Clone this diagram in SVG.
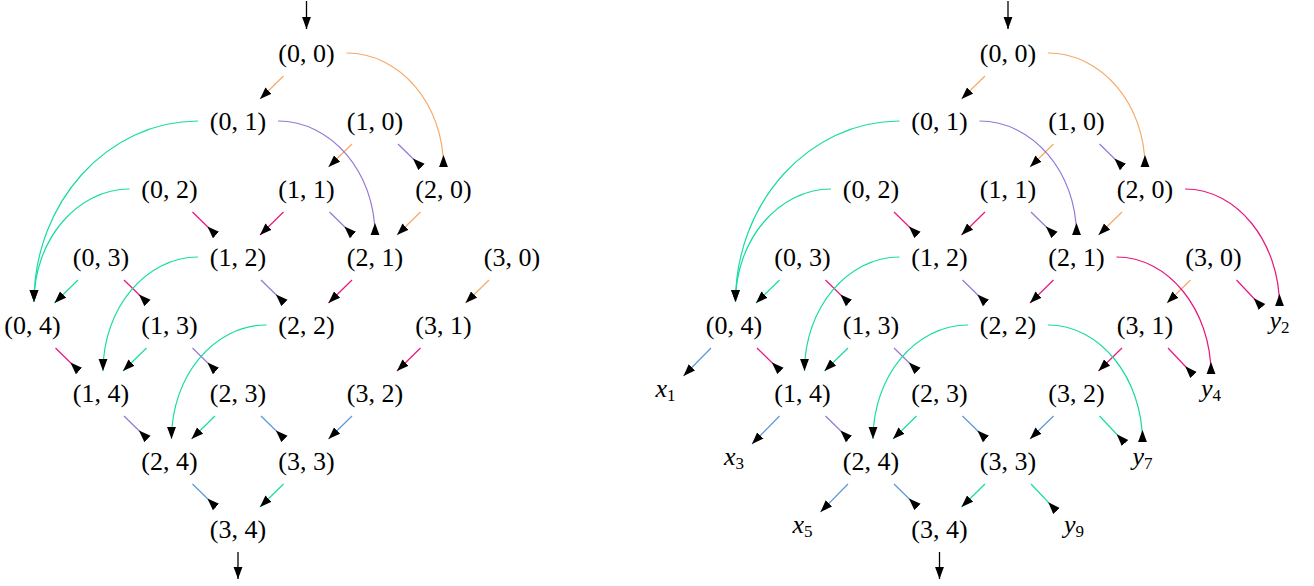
<svg xmlns="http://www.w3.org/2000/svg" width="1314" height="586" viewBox="0 0 1314 586">
<style>
.n{font-family:"Liberation Serif","DejaVu Serif",serif;font-size:26px;fill:#000;text-anchor:middle}
.m{font-family:"Liberation Serif","DejaVu Serif",serif;font-size:26px;font-style:italic;fill:#000;text-anchor:middle}
.s{font-size:17px;font-style:normal}
.e{fill:none;stroke-width:1.2}
.dl{marker-end:url(#ah)}
.dr{marker-end:url(#rh)}
.o{stroke:#f7a866}
.p{stroke:#9577d4}
.k{stroke:#e8167d}
.t{stroke:#17dca2}
.b{stroke:#5b98d6}
.io{fill:none;stroke:#000;stroke-width:1.3;marker-end:url(#ah)}
</style>
<defs>
<marker id="ah" markerUnits="userSpaceOnUse" markerWidth="12" markerHeight="10" viewBox="0 0 10 8" refX="10" refY="4" orient="auto"><path d="M0,0.3 L10,4 L0,7.7 z" fill="#000"/></marker>
<marker id="rh" markerUnits="userSpaceOnUse" markerWidth="12" markerHeight="10" viewBox="0 0 10 8" refX="10" refY="4" orient="auto"><path d="M0,4 L10,0.3 L10,7.7 z" fill="#000"/></marker>
</defs>

<!-- LEFT DIAGRAM -->
<g id="left">
<g id="left-connectors">
<path class="io" d="M306.5,1 L306.5,29"/>
<path class="io" d="M238,552 L238,579"/>
<path class="e o dl" d="M283.5,76 L260,99"/>
<path class="e o dl" d="M352,144 L328.5,167"/>
<path class="e o dl" d="M420.5,212 L397,235"/>
<path class="e o dl" d="M489,280 L465.5,303"/>
<path class="e o dr" d="M346.5,53 C400,53 443.5,104 443.5,167"/>
<path class="e p dr" d="M398,144 L421.5,167"/>
<path class="e p dr" d="M329.5,212 L353,235"/>
<path class="e p dr" d="M261,280 L284.5,303"/>
<path class="e p dr" d="M192.5,348 L216,371"/>
<path class="e p dr" d="M124,416 L147.5,439"/>
<path class="e p dr" d="M278,121 C331,121 375,172 375,235"/>
<path class="e k dr" d="M192.5,212 L216,235"/>
<path class="e k dl" d="M283.5,212 L260,235"/>
<path class="e k dr" d="M124,280 L147.5,303"/>
<path class="e k dl" d="M352,280 L328.5,303"/>
<path class="e k dr" d="M55.5,348 L79,371"/>
<path class="e k dl" d="M420.5,348 L397,371"/>
<path class="e t dl" d="M78,280 L54.5,303"/>
<path class="e t dl" d="M146.5,348 L123,371"/>
<path class="e t dl" d="M215,416 L191.5,439"/>
<path class="e t dl" d="M283.5,484 L260,507"/>
<path class="e t dl" d="M198,121 C108,121 34,202 34,302"/>
<path class="e t dl" d="M129.5,189 C77,189 34,240 34,302"/>
<path class="e t dl" d="M198,257 C146,257 103,308 103,371"/>
<path class="e t dl" d="M266.5,325 C214,325 171.5,376 171.5,439"/>
<path class="e b dr" d="M261,416 L284.5,439"/>
<path class="e b dl" d="M352,416 L328.5,439"/>
<path class="e b dr" d="M192.5,484 L216,507"/>
</g>
<g id="L00"><text class="n" x="306.5" y="62">(0, 0)</text></g>
<g id="L01"><text class="n" x="238" y="130">(0, 1)</text></g>
<g id="L10"><text class="n" x="375" y="130">(1, 0)</text></g>
<g id="L02"><text class="n" x="169.5" y="198">(0, 2)</text></g>
<g id="L11"><text class="n" x="306.5" y="198">(1, 1)</text></g>
<g id="L20"><text class="n" x="443.5" y="198">(2, 0)</text></g>
<g id="L03"><text class="n" x="101" y="266">(0, 3)</text></g>
<g id="L12"><text class="n" x="238" y="266">(1, 2)</text></g>
<g id="L21"><text class="n" x="375" y="266">(2, 1)</text></g>
<g id="L30"><text class="n" x="512" y="266">(3, 0)</text></g>
<g id="L04"><text class="n" x="32.5" y="334">(0, 4)</text></g>
<g id="L13"><text class="n" x="169.5" y="334">(1, 3)</text></g>
<g id="L22"><text class="n" x="306.5" y="334">(2, 2)</text></g>
<g id="L31"><text class="n" x="443.5" y="334">(3, 1)</text></g>
<g id="L14"><text class="n" x="101" y="402">(1, 4)</text></g>
<g id="L23"><text class="n" x="238" y="402">(2, 3)</text></g>
<g id="L32"><text class="n" x="375" y="402">(3, 2)</text></g>
<g id="L24"><text class="n" x="169.5" y="470">(2, 4)</text></g>
<g id="L33"><text class="n" x="306.5" y="470">(3, 3)</text></g>
<g id="L34"><text class="n" x="238" y="538">(3, 4)</text></g>
</g>

<!-- RIGHT DIAGRAM -->
<g id="right" transform="translate(701.5,0)">
<g id="right-connectors">
<path class="io" d="M306.5,1 L306.5,29"/>
<path class="io" d="M238,552 L238,579"/>
<path class="e o dl" d="M283.5,76 L260,99"/>
<path class="e o dl" d="M352,144 L328.5,167"/>
<path class="e o dl" d="M420.5,212 L397,235"/>
<path class="e o dl" d="M489,280 L465.5,303"/>
<path class="e o dr" d="M346.5,53 C400,53 443.5,104 443.5,167"/>
<path class="e p dr" d="M398,144 L421.5,167"/>
<path class="e p dr" d="M329.5,212 L353,235"/>
<path class="e p dr" d="M261,280 L284.5,303"/>
<path class="e p dr" d="M192.5,348 L216,371"/>
<path class="e p dr" d="M124,416 L147.5,439"/>
<path class="e p dr" d="M278,121 C331,121 375,172 375,235"/>
<path class="e k dr" d="M192.5,212 L216,235"/>
<path class="e k dl" d="M283.5,212 L260,235"/>
<path class="e k dr" d="M124,280 L147.5,303"/>
<path class="e k dl" d="M352,280 L328.5,303"/>
<path class="e k dr" d="M55.5,348 L79,371"/>
<path class="e k dl" d="M420.5,348 L397,371"/>
<path class="e k dr" d="M535,280 L560.5,307"/>
<path class="e k dr" d="M466.5,348 L492,375"/>
<path class="e k dr" d="M483.5,189 C535.5,189 578,242 578,306"/>
<path class="e k dr" d="M415,257 C467,257 509.5,310 509.5,374"/>
<path class="e t dl" d="M78,280 L54.5,303"/>
<path class="e t dl" d="M146.5,348 L123,371"/>
<path class="e t dl" d="M215,416 L191.5,439"/>
<path class="e t dl" d="M283.5,484 L260,507"/>
<path class="e t dl" d="M198,121 C108,121 34,202 34,302"/>
<path class="e t dl" d="M129.5,189 C77,189 34,240 34,302"/>
<path class="e t dl" d="M198,257 C146,257 103,308 103,371"/>
<path class="e t dl" d="M266.5,325 C214,325 171.5,376 171.5,439"/>
<path class="e t dr" d="M398,416 L423.5,443"/>
<path class="e t dr" d="M329.5,484 L355,511"/>
<path class="e t dr" d="M346.5,325 C398.5,325 441,378 441,442"/>
<path class="e b dr" d="M261,416 L284.5,439"/>
<path class="e b dl" d="M352,416 L328.5,439"/>
<path class="e b dr" d="M192.5,484 L216,507"/>
<path class="e b dl" d="M9.5,348 L-18,376"/>
<path class="e b dl" d="M78,416 L50.5,444"/>
<path class="e b dl" d="M146.5,484 L119,512"/>
</g>
<g id="R00"><text class="n" x="306.5" y="62">(0, 0)</text></g>
<g id="R01"><text class="n" x="238" y="130">(0, 1)</text></g>
<g id="R10"><text class="n" x="375" y="130">(1, 0)</text></g>
<g id="R02"><text class="n" x="169.5" y="198">(0, 2)</text></g>
<g id="R11"><text class="n" x="306.5" y="198">(1, 1)</text></g>
<g id="R20"><text class="n" x="443.5" y="198">(2, 0)</text></g>
<g id="R03"><text class="n" x="101" y="266">(0, 3)</text></g>
<g id="R12"><text class="n" x="238" y="266">(1, 2)</text></g>
<g id="R21"><text class="n" x="375" y="266">(2, 1)</text></g>
<g id="R30"><text class="n" x="512" y="266">(3, 0)</text></g>
<g id="R04"><text class="n" x="32.5" y="334">(0, 4)</text></g>
<g id="R13"><text class="n" x="169.5" y="334">(1, 3)</text></g>
<g id="R22"><text class="n" x="306.5" y="334">(2, 2)</text></g>
<g id="R31"><text class="n" x="443.5" y="334">(3, 1)</text></g>
<g id="R14"><text class="n" x="101" y="402">(1, 4)</text></g>
<g id="R23"><text class="n" x="238" y="402">(2, 3)</text></g>
<g id="R32"><text class="n" x="375" y="402">(3, 2)</text></g>
<g id="R24"><text class="n" x="169.5" y="470">(2, 4)</text></g>
<g id="R33"><text class="n" x="306.5" y="470">(3, 3)</text></g>
<g id="R34"><text class="n" x="238" y="538">(3, 4)</text></g>
<g id="Rx1"><text class="m" x="-36" y="397">x<tspan class="s" dy="4">1</tspan></text></g>
<g id="Rx3"><text class="m" x="32.5" y="465">x<tspan class="s" dy="4">3</tspan></text></g>
<g id="Rx5"><text class="m" x="101" y="533">x<tspan class="s" dy="4">5</tspan></text></g>
<g id="Ry2"><text class="m" x="578" y="329">y<tspan class="s" dy="4">2</tspan></text></g>
<g id="Ry4"><text class="m" x="509.5" y="397">y<tspan class="s" dy="4">4</tspan></text></g>
<g id="Ry7"><text class="m" x="441" y="465">y<tspan class="s" dy="4">7</tspan></text></g>
<g id="Ry9"><text class="m" x="372.5" y="533">y<tspan class="s" dy="4">9</tspan></text></g>
</g>
</svg>
